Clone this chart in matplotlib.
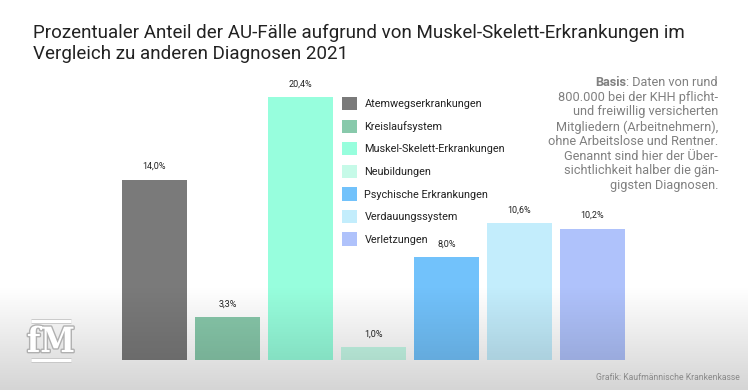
import matplotlib.pyplot as plt
import matplotlib.patheffects as pe
import numpy as np

# data
categories = ['Atemwegserkrankungen', 'Kreislaufsystem', 'Muskel-Skelett-Erkrankungen',
              'Neubildungen', 'Psychische Erkrankungen', 'Verdauungssystem', 'Verletzungen']
values = [14.0, 3.3, 20.4, 1.0, 8.0, 10.6, 10.2]
value_labels = ['14,0%', '3,3%', '20,4%', '1,0%', '8,0%', '10,6%', '10,2%']
colors = ['#7a7a7a', '#88c9ab', '#97fedd', '#c6fae8', '#72c2fb', '#c3edfc', '#afc2fb']

title = ('Prozentualer Anteil der AU-Fälle aufgrund von Muskel-Skelett-Erkrankungen im\n'
         'Vergleich zu anderen Diagnosen 2021')
note_lines = ['800.000 bei der KHH pflicht-', 'und freiwillig versicherten',
              'Mitgliedern (Arbeitnehmern),', 'ohne Arbeitslose und Rentner.',
              'Genannt sind hier der Über-', 'sichtlichkeit halber die gän-',
              'gigsten Diagnosen.']
source = 'Grafik: Kaufmännische Krankenkasse'

W, H = 748, 390
fig = plt.figure(figsize=(W / 100, H / 100), dpi=100)
fig.patch.set_facecolor('white')

cond = ['Liberation Sans Narrow', 'Roboto', 'DejaVu Sans']
plain = ['Roboto', 'DejaVu Sans']

# bar axes: x from 118 to 629 px, y from 360 (0) to 97 (20.4)
ax = fig.add_axes([118 / W, 30 / H, 511 / W, 263 / H])
x = np.arange(len(values))
bars = ax.bar(x, values, width=0.9, color=colors, label=categories, zorder=2)
ax.set_xlim(-0.5, len(values) - 0.5)
ax.set_ylim(0, 20.4)
ax.axis('off')
for b, lab in zip(bars, value_labels):
    ax.annotate(lab, (b.get_x() + b.get_width() / 2, b.get_height()),
                xytext=(0, 6), textcoords='offset points', ha='center', va='bottom',
                fontsize=6.5, family=cond, color='#222222')

leg = ax.legend(loc='upper left', bbox_to_anchor=(342 / W, 1 - 97 / H),
                bbox_transform=fig.transFigure, frameon=False,
                prop={'family': plain, 'size': 7.85}, handlelength=1.4,
                handleheight=1.5, labelspacing=0.85, handletextpad=0.65,
                borderpad=0, borderaxespad=0)
for t in leg.get_texts():
    t.set_color('#222222')

# title
fig.text(33 / W, 1 - 24 / H, title, ha='left', va='top', fontsize=13.5,
         family=cond, color='#222222', linespacing=1.2)

# note on the right, first line with bold "Basis"
rx = 718 / W
fs = 9.2
y0 = 1 - 76 / H
t1 = fig.text(rx, y0, ': Daten von rund', ha='right', va='top', fontsize=fs,
              family=plain, color='#808080')
r = fig.canvas.get_renderer()
bb = t1.get_window_extent(renderer=r)
fig.text(bb.x0 / W, y0, 'Basis', ha='right', va='top', fontsize=fs,
         family=plain, color='#808080', fontweight='bold')
for i, line in enumerate(note_lines):
    fig.text(rx, y0 - (i + 1) * 14.7 / H, line, ha='right', va='top',
             fontsize=fs, family=plain, color='#808080')

# bottom gradient overlay
ov = fig.add_axes([0, 0, 1, 1], zorder=5)
ov.set_xlim(0, W)
ov.set_ylim(H, 0)
ov.axis('off')
ov.patch.set_alpha(0)
yy = np.arange(H)
alpha = np.clip((yy - 285) / (H - 285), 0, 1) * 0.17
grad = np.zeros((H, 1, 4))
grad[:, 0, 3] = alpha
ov.imshow(grad, extent=(0, W, H, 0), aspect='auto', interpolation='bilinear')

# logo
for ly in (321, 360):
    ov.plot([31, 71], [ly, ly], color='white', lw=2.2, solid_capstyle='butt',
            path_effects=[pe.withStroke(linewidth=3.4, foreground='#c4c4c4')])
ov.text(51, 342, 'fM', ha='center', va='center', fontsize=25, family='DejaVu Serif',
        stretch='condensed', fontweight='bold', color='white',
        path_effects=[pe.withStroke(linewidth=2, foreground='#b0b0b0')])

# source
ov.text(740, 378, source, ha='right', va='center', fontsize=6.2, family=cond,
        color='#8a8a8a')

fig.savefig('out.png', dpi=100)
